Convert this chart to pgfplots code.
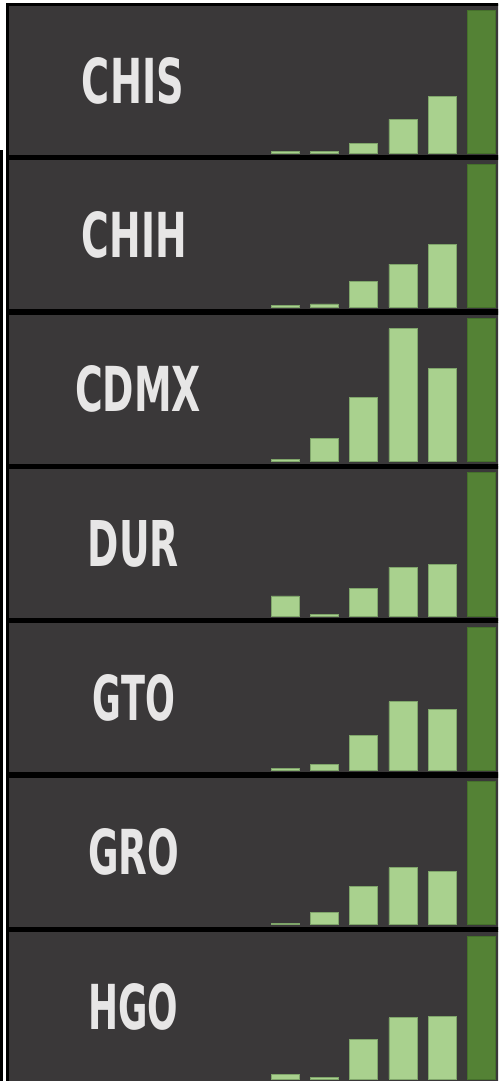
\documentclass[border=0pt]{standalone}
\usepackage{pgfplots}
\pgfplotsset{compat=1.18}
\usepackage{fontspec}
\newfontfamily\labelfont{DejaVu Sans}
\usepackage{graphicx}
\definecolor{bgc}{HTML}{3A3839}
\definecolor{lightg}{HTML}{A9D18E}
\definecolor{lightgd}{HTML}{7FA56A}
\definecolor{darkg}{HTML}{548235}
\definecolor{darkgd}{HTML}{45702B}
\definecolor{txt}{HTML}{E7E6E6}
\pgfplotsset{
  panel/.style={
    scale only axis, width=495.5pt, height=152.4pt,
    anchor=north west,
    xmin=-7.073, xmax=5.548, ymin=-2.584, ymax=103.84,
    xtick=\empty, ytick=\empty,
    axis line style={black, line width=3.4pt},
    axis background/.style={fill=bgc},
    ybar, bar width=28pt, /pgf/bar shift=0pt,
  },
}
\newcommand{\panel}[5]{%
\begin{axis}[panel, at={(7.5pt,-#1pt)}]
\addplot[fill=lightg, draw=lightgd, line width=0.8pt] coordinates {#5};
\addplot[fill=darkg, draw=darkgd, line width=0.8pt] coordinates {(5,100)};
\node[inner sep=0pt, text=txt] at (rel axis cs:#4,0.5) {\resizebox{#3pt}{46pt}{\labelfont\bfseries #2}};
\end{axis}}
\begin{document}
\begin{tikzpicture}
\useasboundingbox (0,0) rectangle (498pt,-1081pt);
\fill[white] (0,0) rectangle (498pt,-1081pt);
\clip (0,0) rectangle (498pt,-1081pt);
\fill[black] (0,-150pt) rectangle (3pt,-1081pt);
\panel{4.5}{CHIS}{102}{0.2533}{(0,1.2) (1,1.2) (2,6.5) (3,23.7) (4,39.5)}
\panel{158.5}{CHIH}{105}{0.2563}{(0,1.4) (1,2.3) (2,18.0) (3,30.0) (4,43.8)}
\panel{312.9}{CDMX}{126}{0.2634}{(0,1.4) (1,16.0) (2,44.7) (3,92.8) (4,64.9)}
\panel{467.3}{DUR}{91}{0.2543}{(0,14.0) (1,1.4) (2,19.2) (3,34.2) (4,36.3)}
\panel{621.7}{GTO}{82}{0.2553}{(0,1.4) (1,4.4) (2,24.7) (3,48.1) (4,42.8)}
\panel{776.1}{GRO}{91}{0.2543}{(0,1.2) (1,8.4) (2,26.7) (3,40.0) (4,37.2)}
\panel{930.5}{HGO}{90}{0.2533}{(0,3.5) (1,1.2) (2,27.9) (3,42.9) (4,43.8)}
\end{tikzpicture}
\end{document}
